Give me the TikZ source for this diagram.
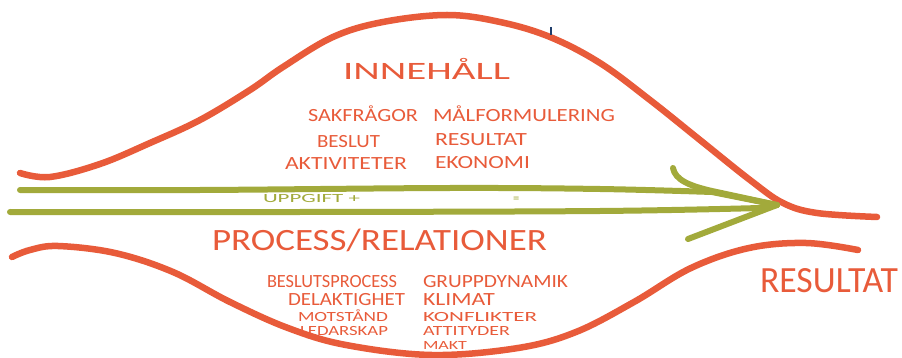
\documentclass[tikz,border=0pt]{standalone}
\usepackage{fontspec}
\setmainfont{Carlito}
\usepackage{graphicx}
\definecolor{hwred}{HTML}{E85B3A}
\definecolor{hwgreen}{HTML}{A2AA3B}
\definecolor{hwnavy}{HTML}{1F3D6B}
\newcommand\hwfit[2]{\sbox0{#2}\scalebox{\fpeval{(#1)/(\the\wd0)}}[1]{\usebox0}}
\begin{document}
\begin{tikzpicture}[x=1pt,y=-1pt,
  redline/.style={draw=hwred,line width=6.5pt,line cap=round,line join=round},
  greenline/.style={draw=hwgreen,line width=6pt,line cap=round,line join=round},
  lbl/.style={anchor=base west,inner sep=0pt,outer sep=0pt,text=hwred},
  glbl/.style={anchor=base west,inner sep=0pt,outer sep=0pt,text=hwgreen},
  fsA/.style={font=\fontsize{25pt}{25pt}\selectfont},
  fsB/.style={font=\fontsize{18.6pt}{19pt}\selectfont},
  fsC/.style={font=\fontsize{14pt}{14pt}\selectfont},
  fsD/.style={font=\fontsize{12.5pt}{13pt}\selectfont},
  fsP/.style={font=\fontsize{31pt}{31pt}\selectfont},
  fsR/.style={font=\fontsize{37pt}{37pt}\selectfont}]
\useasboundingbox (0,0) rectangle (902,358);
% top curve
\draw[redline] plot[smooth,tension=0.6] coordinates {(20,173) (50,177) (100,164) (150,143) (200,120) (250,90) (283,67) (333,37) (383,22) (447,15) (500,22) (550,37) (600,63) (650,100) (700,140) (750,180) (783,203) (817,213) (877,217)};
% bottom curve
\draw[redline] plot[smooth,tension=0.6] coordinates {(12,257) (30,250) (58,246) (115,253) (173,272) (230,302) (288,328) (346,345) (432,355) (518,348) (576,332) (634,302) (691,268) (749,248) (806,243) (858,250)};
% navy tick
\draw[hwnavy,line width=2pt] (551,27) -- (551,35);
% green arrow
\coordinate (tip) at (777,205);
\draw[greenline] plot[smooth,tension=0.6] coordinates {(20,190) (200,190) (450,188) (600,189) (712,192)} -- (tip);
\draw[greenline] plot[smooth,tension=0.6] coordinates {(10,212) (300,212) (600,211) (760,208)} -- (tip);
\draw[greenline] (673,168) .. controls (675,180) and (690,186) .. (712,191) -- (tip);
\draw[greenline] (tip) -- (688,239);
% texts
\node[lbl,fsA] (inn) at (343,80) {\hwfit{167}{INNEHÅLL}};
\node[lbl,fsB] (t1) at (308,122) {\hwfit{110}{SAKFRÅGOR}};
\node[lbl,fsB] (t2) at (433,122) {\hwfit{182}{MÅLFORMULERING}};
\node[lbl,fsB] (t3) at (317,148) {\hwfit{63}{BESLUT}};
\node[lbl,fsB] (t4) at (435,146) {\hwfit{92}{RESULTAT}};
\node[lbl,fsB] (t5) at (285,170) {\hwfit{122}{AKTIVITETER}};
\node[lbl,fsB] (t6) at (435,169) {\hwfit{95}{EKONOMI}};
\node[glbl,fsD] (upp) at (263,203) {\hwfit{97}{UPPGIFT +}};
\node[glbl,fsD] (eq) at (513,203) {=};
\node[lbl,fsP] (proc) at (212,251) {\hwfit{335}{PROCESS/RELATIONER}};
\node[lbl,fsB] (b1) at (267,287) {\hwfit{130}{BESLUTSPROCESS}};
\node[lbl,fsB] (b2) at (423,287) {\hwfit{145}{GRUPPDYNAMIK}};
\node[lbl,fsB] (b3) at (288,305) {\hwfit{117}{DELAKTIGHET}};
\node[lbl,fsB] (b4) at (423,305) {\hwfit{72}{KLIMAT}};
\node[lbl,fsC] (b5) at (298,321) {\hwfit{90}{MOTSTÅND}};
\node[lbl,fsC] (b6) at (423,321) {\hwfit{114}{KONFLIKTER}};
\node[lbl,fsC] (b7) at (300,335) {\hwfit{88}{LEDARSKAP}};
\node[lbl,fsC] (b8) at (423,335) {\hwfit{87}{ATTITYDER}};
\node[lbl,fsD] (b9) at (423,349) {\hwfit{44}{MAKT}};
\node[lbl,fsR] (res) at (760,292) {\hwfit{138}{RESULTAT}};
\end{tikzpicture}
\end{document}
